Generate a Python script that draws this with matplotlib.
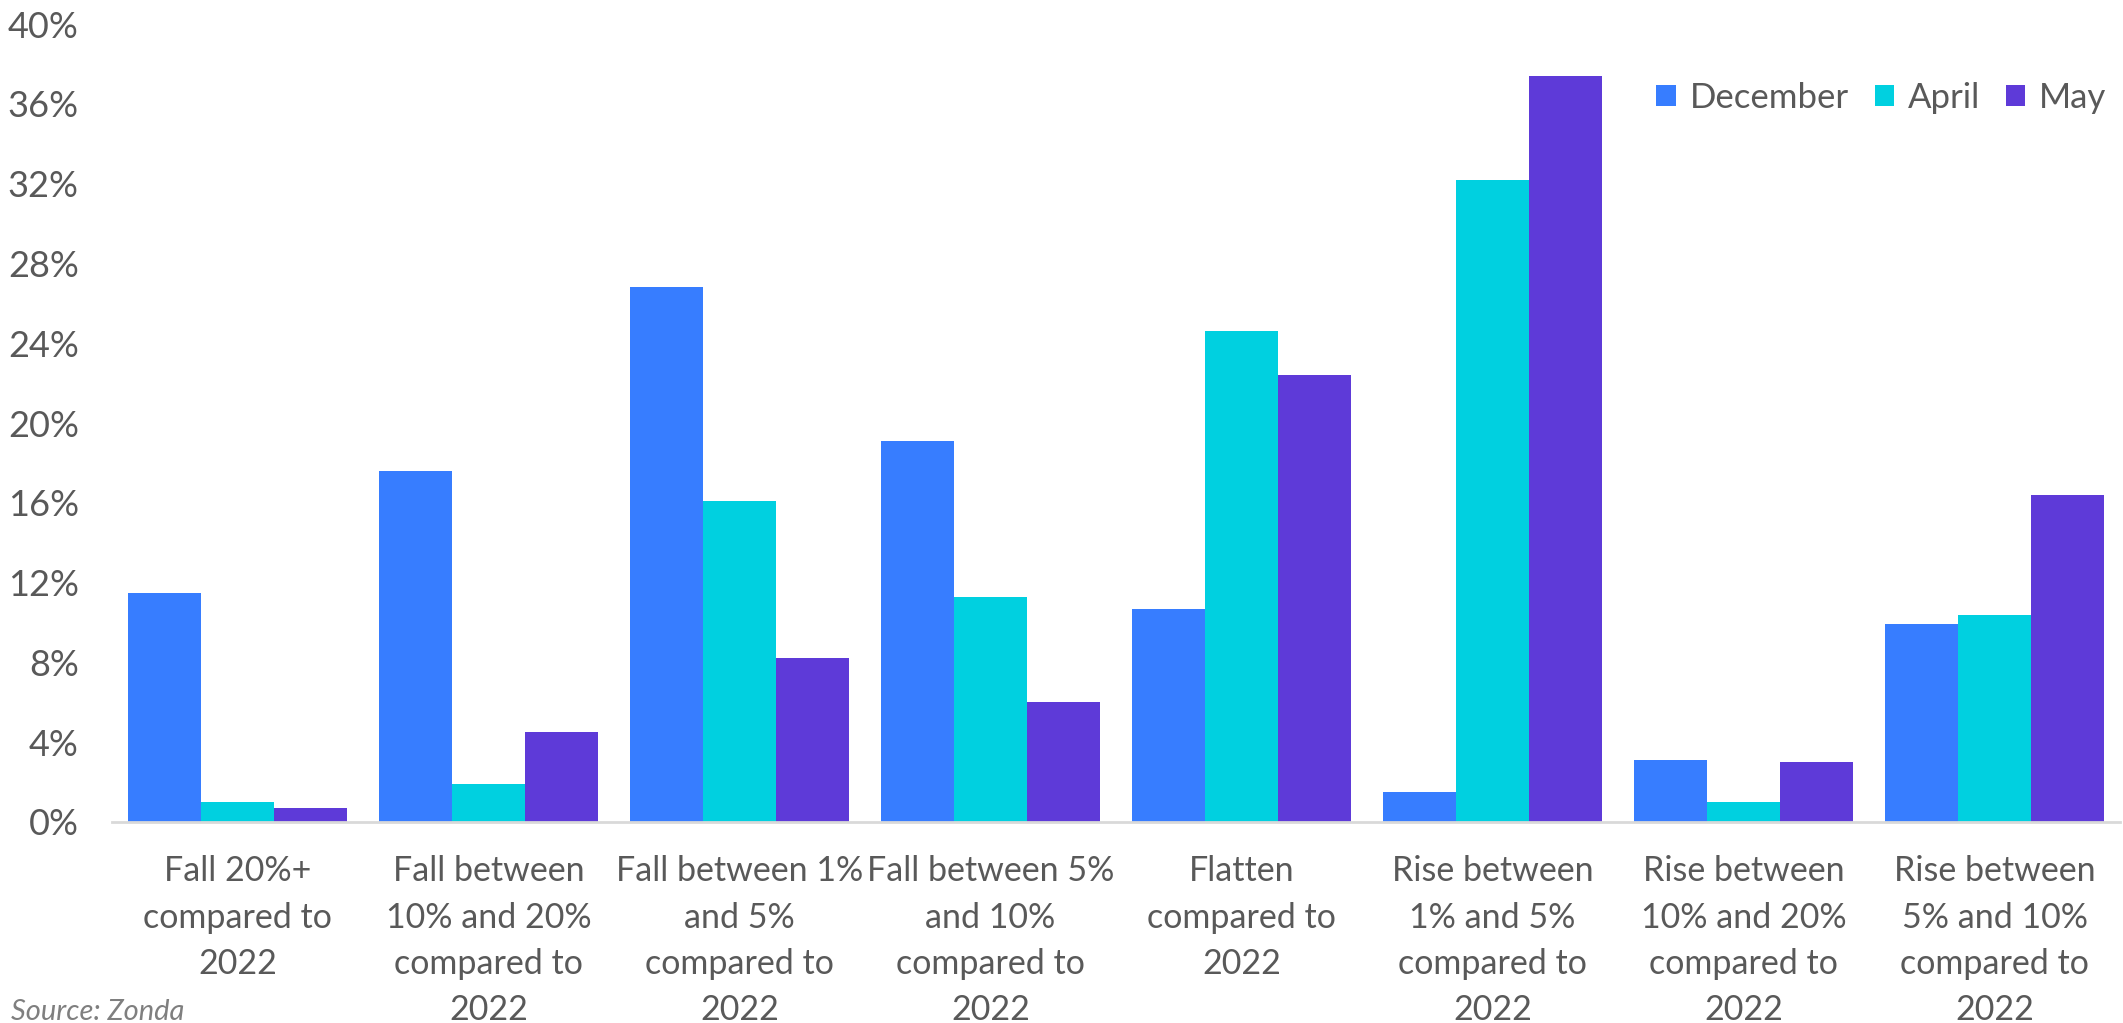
import matplotlib.pyplot as plt
import numpy as np

categories = [
    "Fall 20%+\ncompared to\n2022",
    "Fall between\n10% and 20%\ncompared to\n2022",
    "Fall between 1%\nand 5%\ncompared to\n2022",
    "Fall between 5%\nand 10%\ncompared to\n2022",
    "Flatten\ncompared to\n2022",
    "Rise between\n1% and 5%\ncompared to\n2022",
    "Rise between\n10% and 20%\ncompared to\n2022",
    "Rise between\n5% and 10%\ncompared to\n2022",
]
december = [11.5, 17.6, 26.8, 19.1, 10.7, 1.5, 3.1, 9.9]
april = [1.0, 1.9, 16.1, 11.3, 24.6, 32.2, 1.0, 10.4]
may = [0.7, 4.5, 8.2, 6.0, 22.4, 37.4, 3.0, 16.4]
yticks = [0, 4, 8, 12, 16, 20, 24, 28, 32, 36, 40]

series = [("December", december, "#377DFF"),
          ("April", april, "#00D0E0"),
          ("May", may, "#5E3AD8")]

plt.rcParams['font.family'] = ['Lato', 'DejaVu Sans']
grey = "#595959"

fig = plt.figure(figsize=(21.23, 10.23), dpi=100)
ax = fig.add_axes([0.0528, 0.1965, 0.9458, 0.78])

x = np.arange(len(categories))
w = 0.29
for i, (name, vals, col) in enumerate(series):
    ax.bar(x + (i - 1) * w, vals, width=w, color=col, label=name)

ax.set_xlim(-0.5, len(categories) - 0.5)
ax.set_ylim(0, 40)
ax.set_yticks(yticks)
ax.set_yticklabels([f"{t}%" for t in yticks], fontsize=26)
ax.set_xticks(x)
ax.set_xticklabels(categories, linespacing=1.55, fontsize=24.5)

for s in ["top", "right", "left"]:
    ax.spines[s].set_visible(False)
ax.spines["bottom"].set_color("#D9D9D9")
ax.spines["bottom"].set_linewidth(2)
ax.tick_params(axis="both", length=0, labelcolor=grey)
ax.tick_params(axis="x", pad=24)
ax.tick_params(axis="y", pad=24)

ax.legend(loc="upper right", bbox_to_anchor=(1.0, 0.945), ncol=3, frameon=False,
          fontsize=25, labelcolor=grey, handlelength=0.55, handleheight=0.55,
          handletextpad=0.4, columnspacing=0.75, borderaxespad=0)

fig.text(0.005, 0.003, "Source: Zonda", fontsize=21, style="italic", color="#7F7F7F")

fig.savefig("out.png", dpi=100)
